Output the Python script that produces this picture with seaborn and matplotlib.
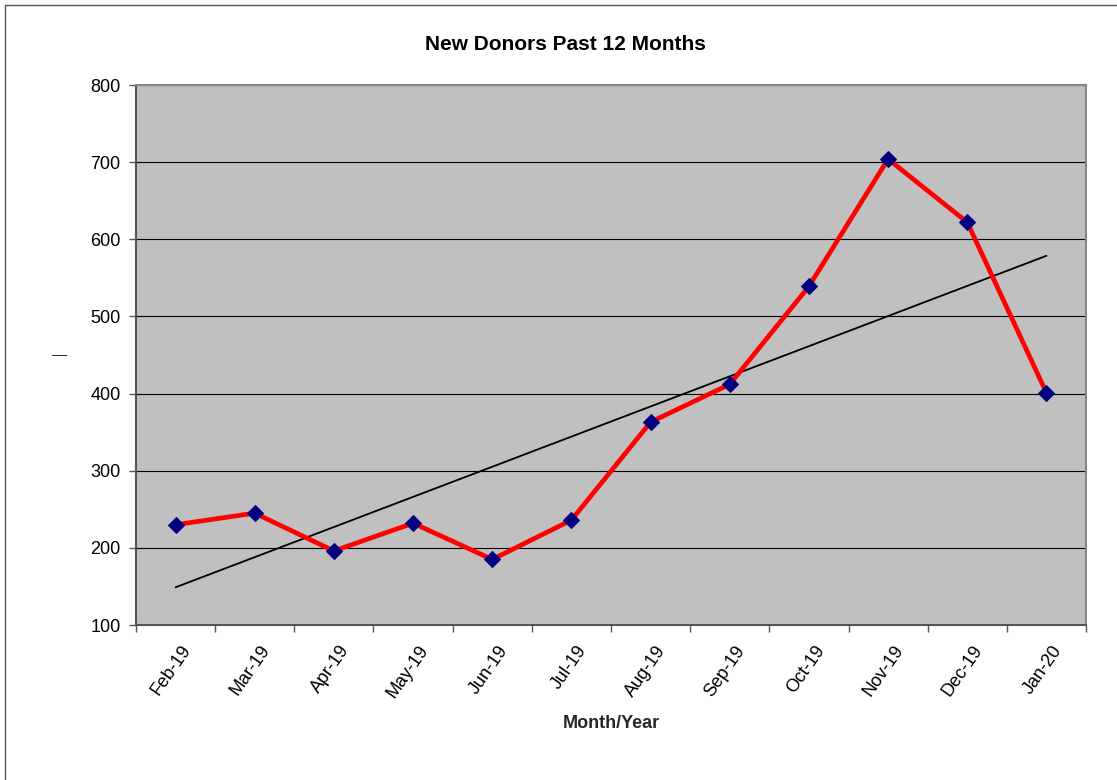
import numpy as np
import pandas as pd
import matplotlib
matplotlib.use("Agg")
import matplotlib.pyplot as plt
import matplotlib.lines as mlines
import matplotlib.transforms as mtransforms
import seaborn as sns

# Data
months = ["Feb-19", "Mar-19", "Apr-19", "May-19", "Jun-19", "Jul-19",
          "Aug-19", "Sep-19", "Oct-19", "Nov-19", "Dec-19", "Jan-20"]
new_donors = [230, 245, 196, 232, 185, 236, 363, 412, 539, 704, 622, 401]

df = pd.DataFrame({"idx": np.arange(len(months)), "month": months, "donors": new_donors})

# linear trendline like Excel's
slope, intercept = np.polyfit(df["idx"], df["donors"], 1)
df["trend"] = intercept + slope * df["idx"]

sns.set_theme(style="white")
plt.rcParams["font.family"] = ["Liberation Sans", "DejaVu Sans"]
plt.rcParams["text.color"] = "black"
plt.rcParams["xtick.color"] = "black"
plt.rcParams["ytick.color"] = "black"

fig = plt.figure(figsize=(11.17, 7.8), dpi=100)
ax = fig.add_axes([136 / 1117, 1 - 625 / 780, 950 / 1117, 540 / 780])
ax.set_facecolor("#C0C0C0")

sns.lineplot(data=df, x="idx", y="trend", ax=ax, color="black", linewidth=1.3, zorder=3)
sns.lineplot(data=df, x="idx", y="donors", ax=ax, color="#FF0000", linewidth=3.4,
             marker="D", markersize=8.5, markerfacecolor="#000080",
             markeredgecolor="#000080", zorder=4)

ax.set_xlim(-0.5, len(months) - 0.5)
ax.set_ylim(100, 800)
ax.set_yticks(range(100, 801, 100))
ax.yaxis.grid(True, color="black", linewidth=0.8)
ax.set_axisbelow(True)

# labels at category centres, tick marks between categories
ax.set_xticks(df["idx"])
ax.set_xticklabels(months, rotation=55, ha="right", va="center", rotation_mode="anchor")
ax.set_xticks(np.arange(-0.5, len(months)), minor=True)
ax.tick_params(axis="x", which="major", bottom=False, length=0, pad=16, labelsize=13)
ax.tick_params(axis="x", which="minor", bottom=True, length=5, width=1, color="#555555", direction="out")
ax.tick_params(axis="y", left=True, length=5, width=1, color="#555555", direction="out", labelsize=13, pad=6)
shift = mtransforms.ScaledTranslation(12 / 100, 0, fig.dpi_scale_trans)
for lbl in ax.get_xticklabels():
    lbl.set_transform(lbl.get_transform() + shift)

for side in ["top", "right"]:
    ax.spines[side].set_color("#888888")
    ax.spines[side].set_linewidth(1.5)
for side in ["left", "bottom"]:
    ax.spines[side].set_color("#555555")
    ax.spines[side].set_linewidth(1.5)

fig.text(565 / 1117, 1 - 45 / 780, "New Donors Past 12 Months", fontsize=15,
         fontweight="bold", ha="center", va="center")
ax.set_xlabel("Month/Year", fontsize=13, fontweight="bold", labelpad=10)
ax.set_ylabel("\u2014", fontsize=11, rotation=0, labelpad=22, va="center")

# chart border (left and top edges visible)
fig.add_artist(mlines.Line2D([5 / 1117, 5 / 1117], [0, 1 - 5 / 780], transform=fig.transFigure,
                             color="#555555", linewidth=1))
fig.add_artist(mlines.Line2D([5 / 1117, 1], [1 - 5 / 780, 1 - 5 / 780], transform=fig.transFigure,
                             color="#555555", linewidth=1))

fig.savefig("out.png", dpi=100)
